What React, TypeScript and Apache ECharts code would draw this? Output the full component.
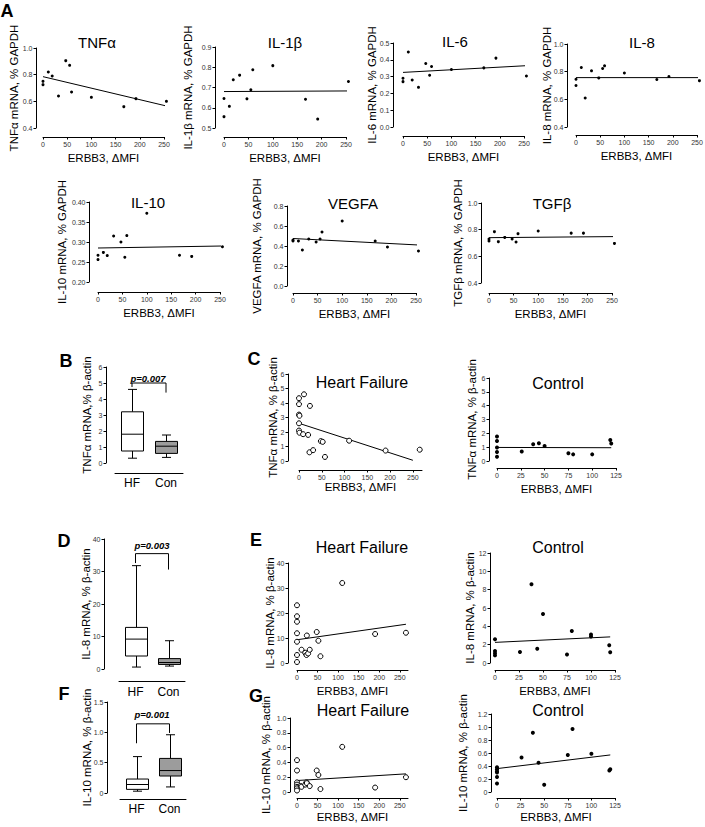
import React, { useEffect, useRef } from "react";
import * as echarts from "echarts";

const FONT = 'Arial, "Liberation Sans", Helvetica, sans-serif';

// ---------------- Panel A: ERBB3 ΔMFI vs mRNA (% GAPDH) ----------------
const aErbb3 = [0, 0, 11, 19, 32, 47, 55, 59, 100, 167, 192, 255];
const aTnf = [0.75, 0.725, 0.82, 0.79, 0.64, 0.905, 0.87, 0.67, 0.63, 0.56, 0.62, 0.6];
const aIl1b = [0.646, 0.556, 0.607, 0.738, 0.761, 0.644, 0.689, 0.788, 0.808, 0.642, 0.544, 0.73];
const aIl6 = [0.29, 0.27, 0.446, 0.28, 0.236, 0.378, 0.308, 0.36, 0.342, 0.352, 0.41, 0.304];
const aIl8 = [0.745, 0.7, 0.83, 0.61, 0.806, 0.755, 0.823, 0.842, 0.79, 0.743, 0.765, 0.735];
const aIl10 = [0.267, 0.256, 0.274, 0.266, 0.315, 0.3, 0.262, 0.316, 0.372, 0.267, 0.264, 0.288];
const aVegfa = [0.46, 0.45, 0.45, 0.36, 0.47, 0.44, 0.47, 0.54, 0.65, 0.45, 0.39, 0.35];
const aTgfb = [0.73, 0.715, 0.785, 0.71, 0.742, 0.73, 0.707, 0.77, 0.79, 0.774, 0.774, 0.697];
const aFitX = [0, 255];
const aTnfFit = [0.785, 0.565];
const aIl1bFit = [0.68, 0.683];
const aIl6Fit = [0.325, 0.365];
const aIl8Fit = [0.757, 0.757];
const aIl10Fit = [0.285, 0.29];
const aVegfaFit = [0.475, 0.41];
const aTgfbFit = [0.74, 0.748];

// ---------------- Box plots: [min, Q1, median, Q3, max] ----------------
const boxCategories = ["HF", "Con"];
const bTnfHF = [0.3, 0.75, 1.8, 3.2, 4.6];
const bTnfCon = [0.35, 0.6, 1.05, 1.35, 1.75];
const dIl8HF = [0.6, 4.0, 9.2, 12.8, 31.8];
const dIl8Con = [0.9, 1.4, 2.0, 3.2, 8.7];
const fIl10HF = [0.03, 0.06, 0.14, 0.23, 0.6];
const fIl10Con = [0.1, 0.28, 0.37, 0.57, 0.96];
// significance brackets: [HF leg end, bar level, Con leg end]
const bBracket = [4.75, 5.0, 4.4];
const dBracket = [32.6, 35.5, 30.6];
const fBracket = [0.82, 1.14, 0.99];
const bP = "p=0.007";
const dP = "p=0.003";
const fP = "p=0.001";

// ---------------- Panels C/E/G: [ERBB3 ΔMFI, mRNA % β-actin] ----------------
const cHfTnf = [[0, 4.33], [0, 3.92], [0, 3.2], [1, 3.12], [0, 2.6], [0, 2.1], [1, 1.95], [9, 1.85], [11, 4.6], [24, 3.8], [20, 1.8], [23, 0.6], [31, 0.75], [48, 1.37], [52, 1.32], [57, 0.28], [110, 1.4], [190, 0.72], [265, 0.78]];
const cCtrlTnf = [[0, 1.77], [0, 1.45], [0, 0.97], [0, 0.65], [0, 0.31], [26, 0.68], [38, 1.21], [44, 1.28], [50, 1.09], [75, 0.56], [80, 0.48], [100, 0.48], [119, 1.52], [120, 1.26]];
const eHfIl8 = [[0, 23.1], [0, 18.7], [0, 16.5], [0, 11.9], [0, 8.5], [0, 3.2], [0, 0.4], [11, 5.3], [20, 4.1], [24, 11], [23, 3.2], [27, 3.8], [31, 5.3], [48, 12.4], [52, 8.9], [57, 2.7], [110, 32], [190, 11.6], [265, 12.1]];
const eCtrlIl8 = [[0, 2.6], [0, 1.3], [0, 1.07], [0, 0.83], [26, 1.2], [38, 8.6], [44, 1.55], [50, 5.35], [75, 0.92], [80, 3.5], [100, 3.1], [100, 2.9], [119, 1.94], [120, 1.17]];
const gHfIl10 = [[0, 0.43], [0, 0.29], [0, 0.13], [0, 0.1], [0, 0.07], [0, 0.05], [0, 0.02], [9, 0.08], [11, 0.07], [20, 0.1], [23, 0.13], [24, 0.12], [31, 0.08], [48, 0.29], [52, 0.23], [57, 0.04], [110, 0.61], [190, 0.06], [265, 0.2]];
const gCtrlIl10 = [[0, 0.38], [0, 0.35], [0, 0.32], [0, 0.3], [0, 0.23], [0, 0.13], [26, 0.53], [38, 0.91], [44, 0.45], [50, 0.11], [75, 0.57], [80, 0.97], [100, 0.59], [119, 0.33], [120, 0.35]];
const cHfFitX = [0, 250];
const cHfFit = [2.6, 0.05];
const hfFitX = [0, 265];
const eHfFit = [9.3, 15.5];
const gHfFit = [0.155, 0.245];
const ctrlFitX = [0, 120];
const cCtrlFit = [0.98, 0.96];
const eCtrlFit = [2.25, 2.85];
const gCtrlFit = [0.36, 0.57];
const hfTicks = [0, 50, 100, 150, 200, 250];
const ctrlTicks = [0, 25, 50, 75, 100, 125];

const X_NAME = "ERBB3, ΔMFI";
const TICK = 7;
const NAME = 11.5;

function buildOption() {
  const grid: any[] = [];
  const xAxis: any[] = [];
  const yAxis: any[] = [];
  const series: any[] = [];
  const graphic: any[] = [];

  const axisLine = { show: true, onZero: false, lineStyle: { color: "#000", width: 1 } };
  const tick = { show: true, length: 2.5, lineStyle: { color: "#000", width: 1 } };
  const fmt = (dec: number, zeroPlain: boolean) => (v: number) =>
    zeroPlain && Math.abs(v) < 1e-9 ? "0" : Number(v).toFixed(dec);

  const text = (t: string, x: number, y: number, size: number, extra: any = {}) => {
    graphic.push({
      type: "text",
      x,
      y,
      silent: true,
      style: {
        text: t,
        fontSize: size,
        fontFamily: FONT,
        fontWeight: extra.weight || "normal",
        fontStyle: extra.style || "normal",
        fill: "#000",
        textAlign: extra.align || "center",
        align: extra.align || "center",
        textVerticalAlign: "middle",
        verticalAlign: "middle",
      },
    });
  };

  const yAx = (i: number, y: any) => ({
    type: "value",
    gridIndex: i,
    min: y.min,
    max: y.max,
    interval: y.interval,
    offset: y.off,
    axisLine,
    axisTick: tick,
    axisLabel: { fontSize: TICK, fontFamily: FONT, color: "#333", margin: 3.5, formatter: fmt(y.dec, !!y.zero) },
    splitLine: { show: false },
    name: y.name,
    nameLocation: "middle",
    nameGap: y.gap,
    nameMoveOverlap: false,
    nameTextStyle: { fontSize: NAME, fontFamily: FONT, color: "#000" },
  });

  const scatterPanel = (p: any) => {
    const i = grid.length;
    grid.push({ ...p.grid, containLabel: false, outerBoundsMode: "none" });
    const xt = p.x.ticks ? { customValues: p.x.ticks } : {};
    xAxis.push({
      type: "value",
      gridIndex: i,
      min: p.x.min,
      max: p.x.max,
      interval: p.x.interval,
      offset: p.x.off,
      axisLine,
      axisTick: { ...tick, ...xt },
      axisLabel: { fontSize: TICK, fontFamily: FONT, color: "#333", margin: 3.5, ...xt },
      splitLine: { show: false },
      name: X_NAME,
      nameLocation: "middle",
      nameGap: p.x.gap,
      nameMoveOverlap: false,
      nameTextStyle: { fontSize: NAME, fontFamily: FONT, color: "#000" },
    });
    yAxis.push(yAx(i, p.y));
    series.push({
      type: "line",
      xAxisIndex: i,
      yAxisIndex: i,
      data: p.fitX.map((x: number, k: number) => [x, p.fitY[k]]),
      showSymbol: false,
      symbol: "none",
      clip: false,
      silent: true,
      lineStyle: { color: "#000", width: 1 },
      z: 2,
    });
    series.push({
      type: "scatter",
      xAxisIndex: i,
      yAxisIndex: i,
      data: p.points,
      symbol: "circle",
      symbolSize: p.size,
      clip: false,
      silent: true,
      itemStyle: p.open
        ? { color: "#fff", borderColor: "#000", borderWidth: 1, opacity: 1 }
        : { color: "#000", opacity: 1 },
      z: 3,
    });
    if (p.title) text(p.title.t, p.title.x, p.title.y, p.title.size);
  };

  const boxFills = ["#ffffff", "#9c9c9c"];
  const boxPanel = (p: any) => {
    const i = grid.length;
    grid.push({ ...p.grid, containLabel: false, outerBoundsMode: "none" });
    xAxis.push({
      type: "category",
      gridIndex: i,
      data: boxCategories,
      boundaryGap: true,
      offset: p.xOff,
      axisLine,
      axisTick: { show: false },
      axisLabel: { fontSize: 12, fontFamily: FONT, color: "#000", margin: p.labMargin },
      splitLine: { show: false },
    });
    yAxis.push(yAx(i, p.y));
    series.push({
      type: "custom",
      xAxisIndex: i,
      yAxisIndex: i,
      silent: true,
      clip: false,
      data: [[0, ...p.hf], [1, ...p.con]],
      encode: { x: 0, y: [1, 2, 3, 4, 5] },
      renderItem: (params: any, api: any) => {
        const c = api.value(0);
        const pMin = api.coord([c, api.value(1)]);
        const pQ1 = api.coord([c, api.value(2)]);
        const pMed = api.coord([c, api.value(3)]);
        const pQ3 = api.coord([c, api.value(4)]);
        const pMax = api.coord([c, api.value(5)]);
        const x = Math.round(pMin[0]) + 0.5;
        const hw = 11;
        const cw = 4.5;
        const ls = { stroke: "#000", lineWidth: 1, fill: null };
        return {
          type: "group",
          children: [
            { type: "line", shape: { x1: x, y1: pMax[1], x2: x, y2: pQ3[1] }, style: ls },
            { type: "line", shape: { x1: x, y1: pQ1[1], x2: x, y2: pMin[1] }, style: ls },
            { type: "line", shape: { x1: x - cw, y1: pMax[1], x2: x + cw, y2: pMax[1] }, style: ls },
            { type: "line", shape: { x1: x - cw, y1: pMin[1], x2: x + cw, y2: pMin[1] }, style: ls },
            {
              type: "rect",
              shape: { x: x - hw, y: pQ3[1], width: 2 * hw, height: pQ1[1] - pQ3[1] },
              style: { fill: boxFills[c], stroke: "#000", lineWidth: 1 },
            },
            { type: "line", shape: { x1: x - hw, y1: pMed[1], x2: x + hw, y2: pMed[1] }, style: ls },
          ],
        };
      },
    });
    series.push({
      type: "line",
      xAxisIndex: i,
      yAxisIndex: i,
      data: [
        [boxCategories[0], p.bracket[0]],
        [boxCategories[0], p.bracket[1]],
        [boxCategories[1], p.bracket[1]],
        [boxCategories[1], p.bracket[2]],
      ],
      showSymbol: false,
      symbol: "none",
      clip: false,
      silent: true,
      lineStyle: { color: "#000", width: 1 },
    });
    text(p.p.t, p.p.x, p.p.y, 9.5, { weight: "bold", style: "italic" });
  };

  // ---------- Panel A ----------
  const aX = (off: number) => ({ min: 0, max: 250, interval: 50, off, gap: 15 });
  const aPanels = [
    { g: { left: 43, top: 48, width: 121, height: 80 }, xo: 9, y: { min: 0.4, max: 1.0, interval: 0.2, dec: 1, off: 7, gap: 16, name: "TNFα mRNA, % GAPDH" }, v: aTnf, f: aTnfFit, t: ["TNFα", 97, 42] },
    { g: { left: 224, top: 47, width: 122, height: 81 }, xo: 9, y: { min: 0.5, max: 0.9, interval: 0.1, dec: 1, off: 9, gap: 21, name: "IL-1β mRNA, % GAPDH" }, v: aIl1b, f: aIl1bFit, t: ["IL-1β", 285, 42] },
    { g: { left: 403, top: 43, width: 121, height: 84 }, xo: 9, y: { min: 0, max: 0.5, interval: 0.1, dec: 1, off: 10, gap: 15.5, name: "IL-6 mRNA, % GAPDH" }, v: aIl6, f: aIl6Fit, t: ["IL-6", 455, 41] },
    { g: { left: 576, top: 44, width: 121, height: 83 }, xo: 8, y: { min: 0.4, max: 1.0, interval: 0.2, dec: 1, off: 9, gap: 14.5, name: "IL-8 mRNA, % GAPDH" }, v: aIl8, f: aIl8Fit, t: ["IL-8", 642, 42] },
    { g: { left: 98, top: 202, width: 122, height: 80 }, xo: 10, y: { min: 0.2, max: 0.4, interval: 0.05, dec: 2, off: 9, gap: 21, name: "IL-10 mRNA, % GAPDH" }, v: aIl10, f: aIl10Fit, t: ["IL-10", 148, 202] },
    { g: { left: 293, top: 206, width: 123, height: 80 }, xo: 7, y: { min: 0, max: 0.8, interval: 0.2, dec: 1, off: 6, gap: 24, name: "VEGFA mRNA, % GAPDH" }, v: aVegfa, f: aVegfaFit, t: ["VEGFA", 353, 203] },
    { g: { left: 489, top: 203, width: 123, height: 80 }, xo: 10, y: { min: 0.4, max: 1.0, interval: 0.2, dec: 1, off: 8, gap: 17.5, name: "TGFβ mRNA, % GAPDH" }, v: aTgfb, f: aTgfbFit, t: ["TGFβ", 552, 203] },
  ];
  aPanels.forEach((a) =>
    scatterPanel({
      grid: a.g,
      x: aX(a.xo),
      y: a.y,
      points: aErbb3.map((x, k) => [x, a.v[k]]),
      fitX: aFitX,
      fitY: a.f,
      size: 3,
      open: false,
      title: { t: a.t[0], x: a.t[1], y: a.t[2], size: 15 },
    })
  );

  // ---------- B / D / F box plots ----------
  boxPanel({
    grid: { left: 115, top: 367, width: 68, height: 96 }, xOff: 10, labMargin: 4,
    y: { min: 0, max: 6, interval: 1, dec: 0, off: 9, gap: 13, name: "TNFα mRNA,% β-actin" },
    hf: bTnfHF, con: bTnfCon, bracket: bBracket, p: { t: bP, x: 148, y: 378 },
  });
  boxPanel({
    grid: { left: 119, top: 539, width: 66, height: 130 }, xOff: 12, labMargin: 4.5,
    y: { min: 0, max: 40, interval: 10, dec: 0, off: 15, gap: 12.5, name: "IL-8 mRNA, % β-actin" },
    hf: dIl8HF, con: dIl8Con, bracket: dBracket, p: { t: dP, x: 152, y: 545 },
  });
  boxPanel({
    grid: { left: 120, top: 702, width: 66, height: 91 }, xOff: 6, labMargin: 4,
    y: { min: 0, max: 1.5, interval: 0.5, dec: 1, zero: true, off: 13, gap: 14, name: "IL-10 mRNA, % β-actin" },
    hf: fIl10HF, con: fIl10Con, bracket: fBracket, p: { t: fP, x: 152, y: 714 },
  });

  // ---------- C / E / G scatter panels ----------
  const hfX = (off: number, gap: number) => ({ min: 0, max: 270, interval: 50, ticks: hfTicks, off, gap });
  const ctX = (off: number, gap: number) => ({ min: 0, max: 125, interval: 25, ticks: ctrlTicks, off, gap });

  scatterPanel({
    grid: { left: 299, top: 374, width: 123, height: 87 }, x: hfX(9, 11),
    y: { min: 0, max: 6, interval: 1, dec: 0, off: 11, gap: 9, name: "TNFα mRNA, % β-actin" },
    points: cHfTnf, fitX: cHfFitX, fitY: cHfFit, size: 5, open: true,
    title: { t: "Heart Failure", x: 362, y: 382, size: 16 },
  });
  scatterPanel({
    grid: { left: 497, top: 378, width: 119, height: 83 }, x: ctX(7, 15),
    y: { min: 0, max: 6, interval: 1, dec: 0, off: 8, gap: 11.5, name: "TNFα mRNA, % β-actin" },
    points: cCtrlTnf, fitX: ctrlFitX, fitY: cCtrlFit, size: 4, open: false,
    title: { t: "Control", x: 558, y: 383, size: 16 },
  });
  scatterPanel({
    grid: { left: 297, top: 563, width: 111, height: 100 }, x: hfX(7, 15),
    y: { min: 0, max: 40, interval: 10, dec: 0, off: 9, gap: 12.5, name: "IL-8 mRNA, % β-actin" },
    points: eHfIl8, fitX: hfFitX, fitY: eHfFit, size: 5, open: true,
    title: { t: "Heart Failure", x: 362, y: 547, size: 16 },
  });
  scatterPanel({
    grid: { left: 495, top: 553, width: 120, height: 110 }, x: ctX(7, 15),
    y: { min: 0, max: 12, interval: 2, dec: 0, off: 5, gap: 14.5, name: "IL-8 mRNA, % β-actin" },
    points: eCtrlIl8, fitX: ctrlFitX, fitY: eCtrlFit, size: 4, open: false,
    title: { t: "Control", x: 558, y: 547, size: 16 },
  });
  scatterPanel({
    grid: { left: 297, top: 718, width: 111, height: 74 }, x: hfX(6, 13),
    y: { min: 0, max: 1.0, interval: 0.2, dec: 1, zero: true, off: 7, gap: 18, name: "IL-10 mRNA, % β-actin" },
    points: gHfIl10, fitX: hfFitX, fitY: gHfFit, size: 5, open: true,
    title: { t: "Heart Failure", x: 363, y: 710, size: 16 },
  });
  scatterPanel({
    grid: { left: 497, top: 714, width: 118, height: 78 }, x: ctX(6, 13),
    y: { min: 0, max: 1.2, interval: 0.2, dec: 1, zero: true, off: 6, gap: 22, name: "IL-10 mRNA, % β-actin" },
    points: gCtrlIl10, fitX: ctrlFitX, fitY: gCtrlFit, size: 4, open: false,
    title: { t: "Control", x: 558, y: 710, size: 16 },
  });

  // ---------- panel letters ----------
  const letters: [string, number, number][] = [
    ["A", 7, 11], ["B", 66, 361], ["C", 254, 359], ["D", 64, 541],
    ["E", 256, 540], ["F", 64, 694], ["G", 256, 696],
  ];
  letters.forEach(([t, x, y]) => text(t, x, y, 18, { weight: "bold" }));

  return {
    animation: false,
    backgroundColor: "#ffffff",
    textStyle: { fontFamily: FONT },
    grid,
    xAxis,
    yAxis,
    series,
    graphic: { elements: graphic },
  };
}

export default function App() {
  const ref = useRef<HTMLDivElement>(null);
  useEffect(() => {
    if (!ref.current) return;
    const chart = echarts.init(ref.current, null, { renderer: "svg" });
    chart.setOption(buildOption() as any);
    return () => chart.dispose();
  }, []);
  return (
    <div
      ref={ref}
      style={{ position: "absolute", left: 0, top: 0, width: 705, height: 827, background: "#fff" }}
    />
  );
}
